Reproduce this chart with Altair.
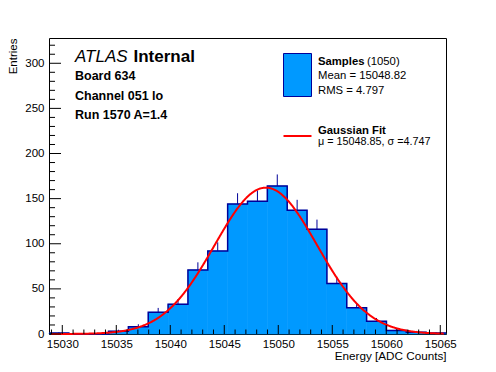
import altair as alt
import pandas as pd
import numpy as np

# ---- data ----
bin_lo = [15028.770, 15030.608, 15032.446, 15034.284, 15036.122, 15037.960,
          15039.798, 15041.636, 15043.474, 15045.312, 15047.150, 15048.988,
          15050.826, 15052.664, 15054.502, 15056.340, 15058.178, 15060.016,
          15061.854, 15063.692]
bin_hi = bin_lo[1:] + [15065.530]
counts = [1, 0, 0, 3, 8, 24, 33, 71, 92, 144, 147, 164, 137, 116, 56, 29, 14, 4, 2, 1]

n_entries = 1050
mean_txt = "15048.82"
rms_txt = "4.797"
fit_mu = 15048.85
fit_sigma = 4.747
bin_width = 1.838
x_min, x_max = 15028.77, 15065.53
y_max = 328

x_major = [15030, 15035, 15040, 15045, 15050, 15055, 15060, 15065]
x_minor = [v for v in range(15029, 15066) if v not in x_major]
y_major = [0, 50, 100, 150, 200, 250, 300]
y_minor = [v for v in range(0, 330, 10) if v not in y_major]

W, H = 397, 296
FONT = "Liberation Sans"
FILL = "#0099ff"
EDGE = "#000099"

hist = pd.DataFrame({"lo": bin_lo, "hi": bin_hi, "count": counts})
hist["mid"] = (hist["lo"] + hist["hi"]) / 2
hist["err_hi"] = hist["count"] + np.sqrt(hist["count"])
step = pd.DataFrame({"edge": bin_lo + [bin_hi[-1]], "count": counts + [counts[-1]]})

xs = alt.Scale(domain=[x_min, x_max], nice=False, zero=False)
ys = alt.Scale(domain=[0, y_max], nice=False, zero=False)

x_axis = alt.Axis(values=x_major, format="d", ticks=False, domain=False, grid=False,
                  labelFont=FONT, labelFontSize=11.5, labelColor="black",
                  labelPadding=4, labelFlush=False,
                  title="Energy [ADC Counts]", titleFont=FONT, titleFontSize=11.7,
                  titleFontWeight="normal", titleColor="black",
                  titleX=W, titleY=25, titleAlign="right", titleBaseline="alphabetic")
y_axis = alt.Axis(values=y_major, format="d", ticks=False, domain=False, grid=False,
                  labelFont=FONT, labelFontSize=11.5, labelColor="black",
                  labelPadding=5, labelFlush=False,
                  title="Entries", titleFont=FONT, titleFontSize=11.5,
                  titleFontWeight="normal", titleColor="black", titleAngle=270,
                  titleX=-33, titleY=0, titleAlign="right", titleBaseline="alphabetic")

def X(field):
    return alt.X(field, scale=xs, axis=x_axis)

def Y(field):
    return alt.Y(field, scale=ys, axis=y_axis)

base = alt.Chart(hist)

err = base.mark_rule(color=EDGE, strokeWidth=1).encode(
    x=X("mid:Q"), y=Y("count:Q"), y2="err_hi:Q",
)
bars = base.mark_rect(fill=FILL, stroke=FILL, strokeWidth=0.6).encode(
    x=X("lo:Q"), x2="hi:Q", y=Y("count:Q"), y2=alt.value(H),
)
outline = alt.Chart(step).mark_line(interpolate="step-after", color=EDGE, strokeWidth=1.5).encode(
    x=X("edge:Q"), y=Y("count:Q"),
)

amp = n_entries * bin_width / (fit_sigma * np.sqrt(2 * np.pi))
gauss = alt.Chart(alt.sequence(x_min + 0.2, x_max - 0.2, 0.05, as_="x")).transform_calculate(
    g=f"{amp} * exp(-0.5 * pow((datum.x - {fit_mu}) / {fit_sigma}, 2))"
).mark_line(color="#ff0000", strokeWidth=2).encode(
    x=X("x:Q"), y=Y("g:Q"),
)

def xtick(vals, length):
    return alt.Chart(pd.DataFrame({"v": vals})).mark_rule(color="black", strokeWidth=1).encode(
        x=X("v:Q"), y=alt.value(H), y2=alt.value(H - length))

def ytick(vals, length):
    return alt.Chart(pd.DataFrame({"v": vals})).mark_rule(color="black", strokeWidth=1).encode(
        y=Y("v:Q"), x=alt.value(0), x2=alt.value(length))

ticks = [xtick(x_major, 9), xtick(x_minor, 4.5), ytick(y_major, 12), ytick(y_minor, 6)]

def label(text, x, y, size, weight="normal", style="normal", color="black"):
    return alt.Chart(pd.DataFrame({"t": [text]})).mark_text(
        align="left", baseline="alphabetic", font=FONT, fontSize=size,
        fontWeight=weight, fontStyle=style, color=color
    ).encode(x=alt.value(x), y=alt.value(y), text="t:N")

texts = [
    label("ATLAS", 26, 24, 17, style="italic"),
    label("Internal", 84.5, 24, 17, weight="bold"),
    label("Board 634", 26, 42, 12.5, weight="bold"),
    label("Channel 051 lo", 26, 61.5, 12.5, weight="bold"),
    label("Run 1570 A=1.4", 26, 80.5, 12.5, weight="bold"),
    label("Samples", 269, 27, 11.3, weight="bold"),
    label(f"({n_entries})", 318, 27, 11.3),
    label(f"Mean = {mean_txt}", 269, 40.5, 11.3),
    label(f"RMS = {rms_txt}", 269, 56, 11.3),
    label("Gaussian Fit", 269, 95.5, 11.3, weight="bold"),
    label(f"\u03bc = {fit_mu:.2f}, \u03c3 ={fit_sigma}", 269, 106.5, 10.8),
]

legend_box = alt.Chart(pd.DataFrame({"a": [0]})).mark_rect(
    fill=FILL, stroke=EDGE, strokeWidth=1).encode(
    x=alt.value(234.5), x2=alt.value(262.5), y=alt.value(15.5), y2=alt.value(58.5))
legend_line = alt.Chart(pd.DataFrame({"a": [0]})).mark_rule(
    color="#ff0000", strokeWidth=2).encode(
    x=alt.value(234.5), x2=alt.value(262.5), y=alt.value(98))

chart = alt.layer(err, bars, outline, gauss, *ticks, legend_box, legend_line, *texts).properties(
    width=W, height=H,
    autosize=alt.AutoSizeParams(type="none"),
    padding={"left": 41, "top": 30, "right": 40, "bottom": 30},
    background="white",
).configure_view(stroke="black", strokeWidth=1)

chart.save("out.html", embed_options={"renderer": "svg", "actions": False})
